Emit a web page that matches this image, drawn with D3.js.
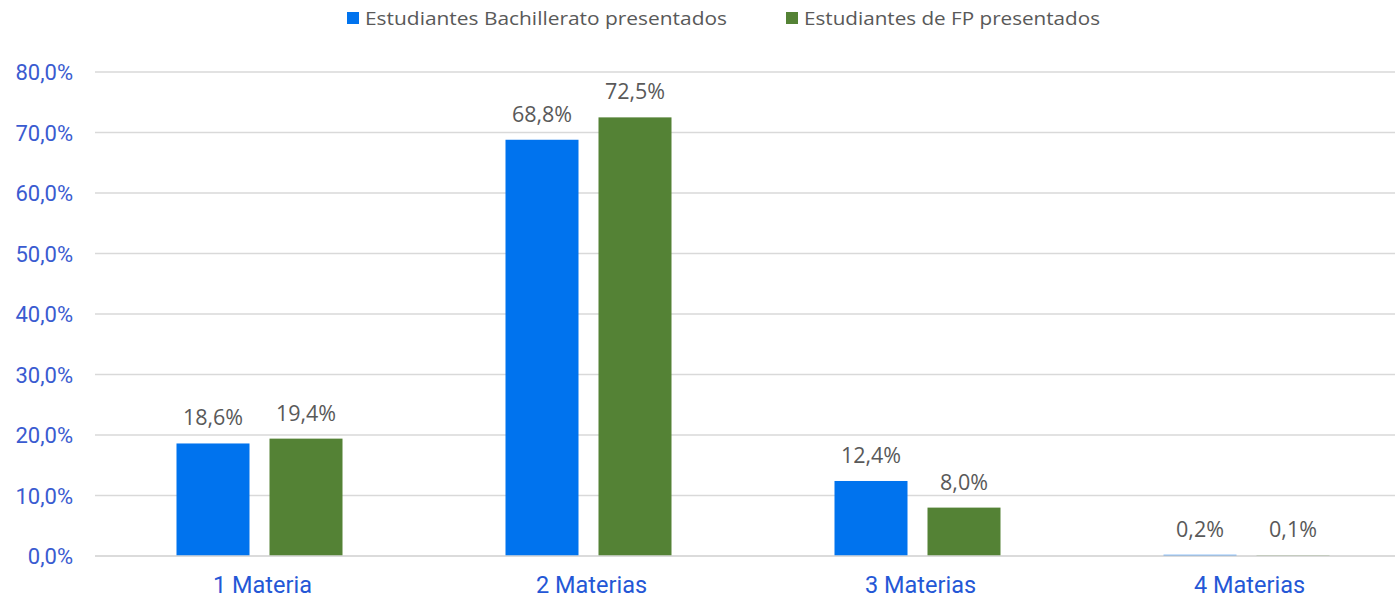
<!DOCTYPE html>
<html><head><meta charset="utf-8">
<script src="https://cdn.jsdelivr.net/npm/d3@7"></script>
<style>body{margin:0;background:#fff;overflow:hidden}</style>
</head><body>
<svg id="chart" width="1395" height="601"></svg>
<script>
const categories = ["1 Materia", "2 Materias", "3 Materias", "4 Materias"];
const seriesNames = ["Estudiantes Bachillerato presentados", "Estudiantes de FP presentados"];
const bachillerato = [18.6, 68.8, 12.4, 0.2];
const fp = [19.4, 72.5, 8.0, 0.1];
const yTicks = [0, 10, 20, 30, 40, 50, 60, 70, 80];
const colors = ["#0073EE", "#548235"];

const svg = d3.select("#chart");
const x = d3.scaleBand().domain(categories).range([95, 1411]).paddingInner(0).paddingOuter(0);
const y = d3.scaleLinear().domain([0, 80]).range([556, 72]);
const xs = d3.scaleBand().domain([0, 1]).range([81.5, 247.5]).paddingInner(20 / 93).paddingOuter(0);
const fmt = v => d3.format(".1f")(v).replace(".", ",") + "%";

// gridlines
svg.append("g").selectAll("line").data(yTicks).join("line")
  .attr("x1", 95).attr("x2", 1395)
  .attr("y1", d => y(d)).attr("y2", d => y(d))
  .attr("stroke", "#d9d9d9").attr("stroke-width", 1.5);

// y axis
const yAxis = d3.axisLeft(y).tickValues(yTicks).tickSize(0).tickPadding(0).tickFormat(fmt);
const ya = svg.append("g").attr("transform", "translate(73,0)").call(yAxis);
ya.select(".domain").remove();
ya.selectAll("text").attr("font-family", "Roboto, sans-serif").attr("font-size", 22).attr("fill", "#3a5bd0").attr("dy", "0.35em");

// x axis
const xAxis = d3.axisBottom(x).tickSize(0).tickPadding(0);
const xa = svg.append("g").attr("transform", "translate(3,0)").call(xAxis);
xa.select(".domain").remove();
xa.selectAll("text").attr("font-family", "Roboto, sans-serif").attr("font-size", 23.5).attr("fill", "#2457d6")
  .attr("y", 593).attr("dy", 0);

const data = [bachillerato, fp];
data.forEach((vals, s) => {
  const g = svg.append("g");
  g.selectAll("rect").data(vals).join("rect")
    .attr("x", (d, i) => x(categories[i]) + xs(s))
    .attr("width", xs.bandwidth())
    .attr("y", d => y(d))
    .attr("height", d => y(0) - y(d))
    .attr("fill", colors[s]);
  g.selectAll("text").data(vals).join("text")
    .attr("x", (d, i) => x(categories[i]) + xs(s) + xs.bandwidth() / 2)
    .attr("y", d => y(d) - 18)
    .attr("text-anchor", "middle")
    .attr("font-family", "'Open Sans', sans-serif").attr("font-size", 21.5)
    .attr("fill", "#595959")
    .text(d => fmt(d));
});

// baseline drawn over bars
svg.append("line").attr("x1", 95).attr("x2", 1395)
  .attr("y1", y(0)).attr("y2", y(0))
  .attr("stroke", "#d9d9d9").attr("stroke-width", 1.5);

// legend
const legendX = [347, 786];
seriesNames.forEach((n, i) => {
  svg.append("rect").attr("x", legendX[i]).attr("y", 12).attr("width", 12).attr("height", 12).attr("fill", colors[i]);
  svg.append("text").attr("x", legendX[i] + 18).attr("y", 25)
    .attr("font-family", "'Open Sans', sans-serif").attr("font-size", 18).attr("fill", "#595959")
    .attr("textLength", i === 0 ? 362 : 296).attr("lengthAdjust", "spacingAndGlyphs")
    .text(n);
});
</script>
</body></html>
